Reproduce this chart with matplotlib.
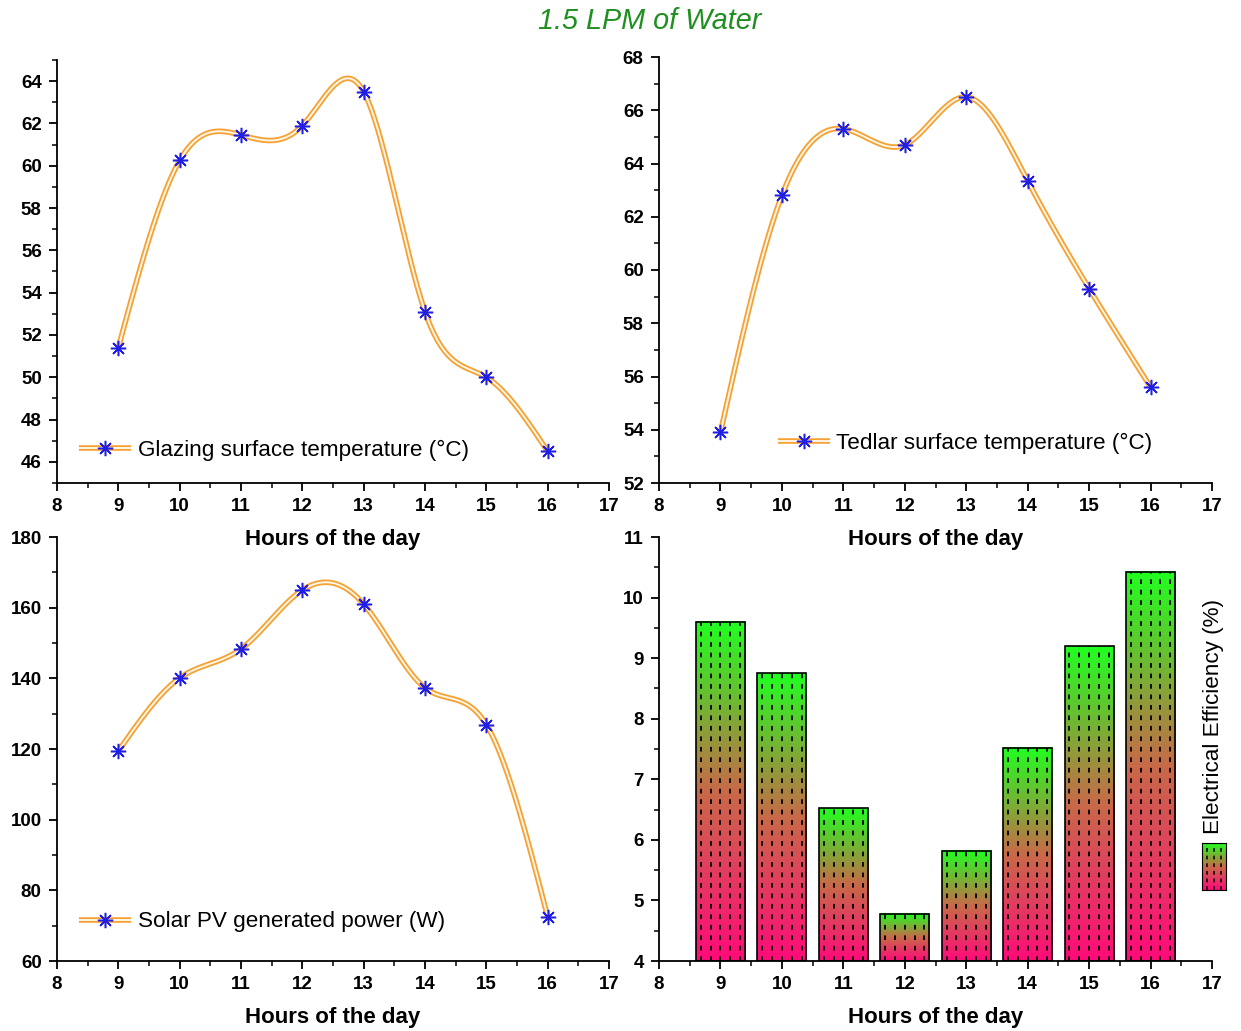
import numpy as np
import matplotlib
matplotlib.use("Agg")
import matplotlib.pyplot as plt
from matplotlib.ticker import MultipleLocator
from matplotlib.legend_handler import HandlerTuple
from matplotlib.patches import Rectangle
from matplotlib.colors import LinearSegmentedColormap

plt.rcParams['font.family'] = ['Liberation Sans', 'DejaVu Sans']

hours = [9, 10, 11, 12, 13, 14, 15, 16]
glazing = [51.4, 60.25, 61.45, 61.9, 63.5, 53.1, 50.0, 46.5]
tedlar = [53.9, 62.8, 65.3, 64.7, 66.5, 63.35, 59.3, 55.6]
power = [119.4, 140.1, 148.3, 165.0, 161.0, 137.3, 126.9, 72.5]
efficiency = [9.6, 8.75, 6.52, 4.78, 5.82, 7.52, 9.2, 10.43]

W, H = 1241, 1031
fig = plt.figure(figsize=(W / 100, H / 100), dpi=100)


def px_axes(l, t, r, b):
    ax = fig.add_axes([l / W, 1 - b / H, (r - l) / W, (b - t) / H])
    ax.set_facecolor('none')
    return ax


def spline(x, y, n=400):
    # natural cubic spline, like the smooth connect line in the original
    x = np.asarray(x, float)
    y = np.asarray(y, float)
    h = np.diff(x)
    m = len(x)
    A = np.zeros((m, m))
    rhs = np.zeros(m)
    A[0, 0] = A[-1, -1] = 1
    for i in range(1, m - 1):
        A[i, i - 1] = h[i - 1]
        A[i, i] = 2 * (h[i - 1] + h[i])
        A[i, i + 1] = h[i]
        rhs[i] = 3 * ((y[i + 1] - y[i]) / h[i] - (y[i] - y[i - 1]) / h[i - 1])
    c = np.linalg.solve(A, rhs)
    bco = (y[1:] - y[:-1]) / h - h * (2 * c[:-1] + c[1:]) / 3
    d = (c[1:] - c[:-1]) / (3 * h)
    xs = np.linspace(x[0], x[-1], n)
    idx = np.clip(np.searchsorted(x, xs) - 1, 0, m - 2)
    dx = xs - x[idx]
    ys = y[idx] + bco[idx] * dx + c[idx] * dx ** 2 + d[idx] * dx ** 3
    return xs, ys


def style(ax, ylim, ymaj):
    ax.set_xlim(8, 17)
    ax.set_ylim(*ylim)
    ax.xaxis.set_major_locator(MultipleLocator(1))
    ax.xaxis.set_minor_locator(MultipleLocator(0.5))
    ax.yaxis.set_major_locator(MultipleLocator(ymaj))
    ax.yaxis.set_minor_locator(MultipleLocator(ymaj / 2))
    for s in ['top', 'right']:
        ax.spines[s].set_visible(False)
    for s in ['left', 'bottom']:
        ax.spines[s].set_linewidth(1.3)
    ax.tick_params(which='major', direction='out', length=6, width=1.3,
                   labelsize=13.5, pad=5)
    ax.tick_params(which='minor', direction='out', length=3.5, width=1.1)
    for lab in ax.get_xticklabels() + ax.get_yticklabels():
        lab.set_fontweight('bold')
    ax.set_xlabel('Hours of the day', fontsize=16, fontweight='bold', labelpad=10)


orange = '#f5a133'
star = (8, 2, 0)


def line_panel(ax, yvals, label, ylim, ymaj, leg_xy):
    xs, ys = spline(hours, yvals)
    ln, = ax.plot(xs, ys, color=orange, lw=4.0, solid_capstyle='butt', zorder=2)
    inner, = ax.plot(xs, ys, color='#fff6e6', lw=1.4, solid_capstyle='butt', zorder=3)
    mk, = ax.plot(hours, yvals, ls='none', marker=star, ms=11, mew=1.1,
                  color='#1f1fe6', zorder=4)
    style(ax, ylim, ymaj)
    ax.legend([(ln, inner, mk)], [label], handler_map={tuple: HandlerTuple(ndivide=1)},
              loc='center left', bbox_to_anchor=leg_xy, frameon=False,
              fontsize=16.2, handlelength=2.3, handletextpad=0.3,
              borderpad=0, borderaxespad=0)


ax1 = px_axes(57, 60, 609, 483)
line_panel(ax1, glazing, 'Glazing surface temperature (°C)', (45, 65), 2, (0.04, 0.078))

ax2 = px_axes(659, 57, 1212, 483)
line_panel(ax2, tedlar, 'Tedlar surface temperature (°C)', (52, 68), 2, (0.215, 0.094))

ax3 = px_axes(57, 537, 609, 961)
line_panel(ax3, power, 'Solar PV generated power (W)', (60, 180), 20, (0.04, 0.092))

# gradient bars
cmap = LinearSegmentedColormap.from_list('pg', ['#ff0a7a', '#c86a48', '#20ff20'])
grad = np.linspace(0, 1, 256).reshape(-1, 1)
ax4 = px_axes(659, 537, 1212, 961)
bw = 0.8
base = 4
for x, v in zip(hours, efficiency):
    ax4.imshow(grad, cmap=cmap, origin='lower', aspect='auto',
               extent=[x - bw / 2, x + bw / 2, base, v], zorder=2)
    for off in [-0.32, -0.16, 0, 0.16, 0.32]:
        ax4.vlines(x + off, base, v, colors='black', lw=1.3,
                   linestyles=(0, (2.6, 3.2)), zorder=3)
    ax4.add_patch(Rectangle((x - bw / 2, base), bw, v - base, fill=False,
                            edgecolor='black', lw=1.2, zorder=4))
style(ax4, (4, 11), 1)
ax4.set_aspect('auto')

fig.text(1214 / W, 1 - 717 / H, 'Electrical Efficiency (%)', rotation=90,
         ha='center', va='center', fontsize=16.2)
sw = px_axes(1202, 843, 1226, 890)
sw.imshow(grad, cmap=cmap, origin='lower', aspect='auto', extent=[0, 1, 0, 1])
for off in [0.2, 0.5, 0.8]:
    sw.vlines(off, 0, 1, colors='black', lw=1.1, linestyles=(0, (2.5, 2.5)))
sw.set_xlim(0, 1)
sw.set_ylim(0, 1)
sw.set_xticks([])
sw.set_yticks([])
for s in sw.spines.values():
    s.set_linewidth(0.8)

fig.text(650 / W, 1 - 21 / H, '1.5 LPM of Water', ha='center', va='center',
         fontsize=20.7, style='italic', color='#1f8f1f')

fig.savefig('out.png', dpi=100)
